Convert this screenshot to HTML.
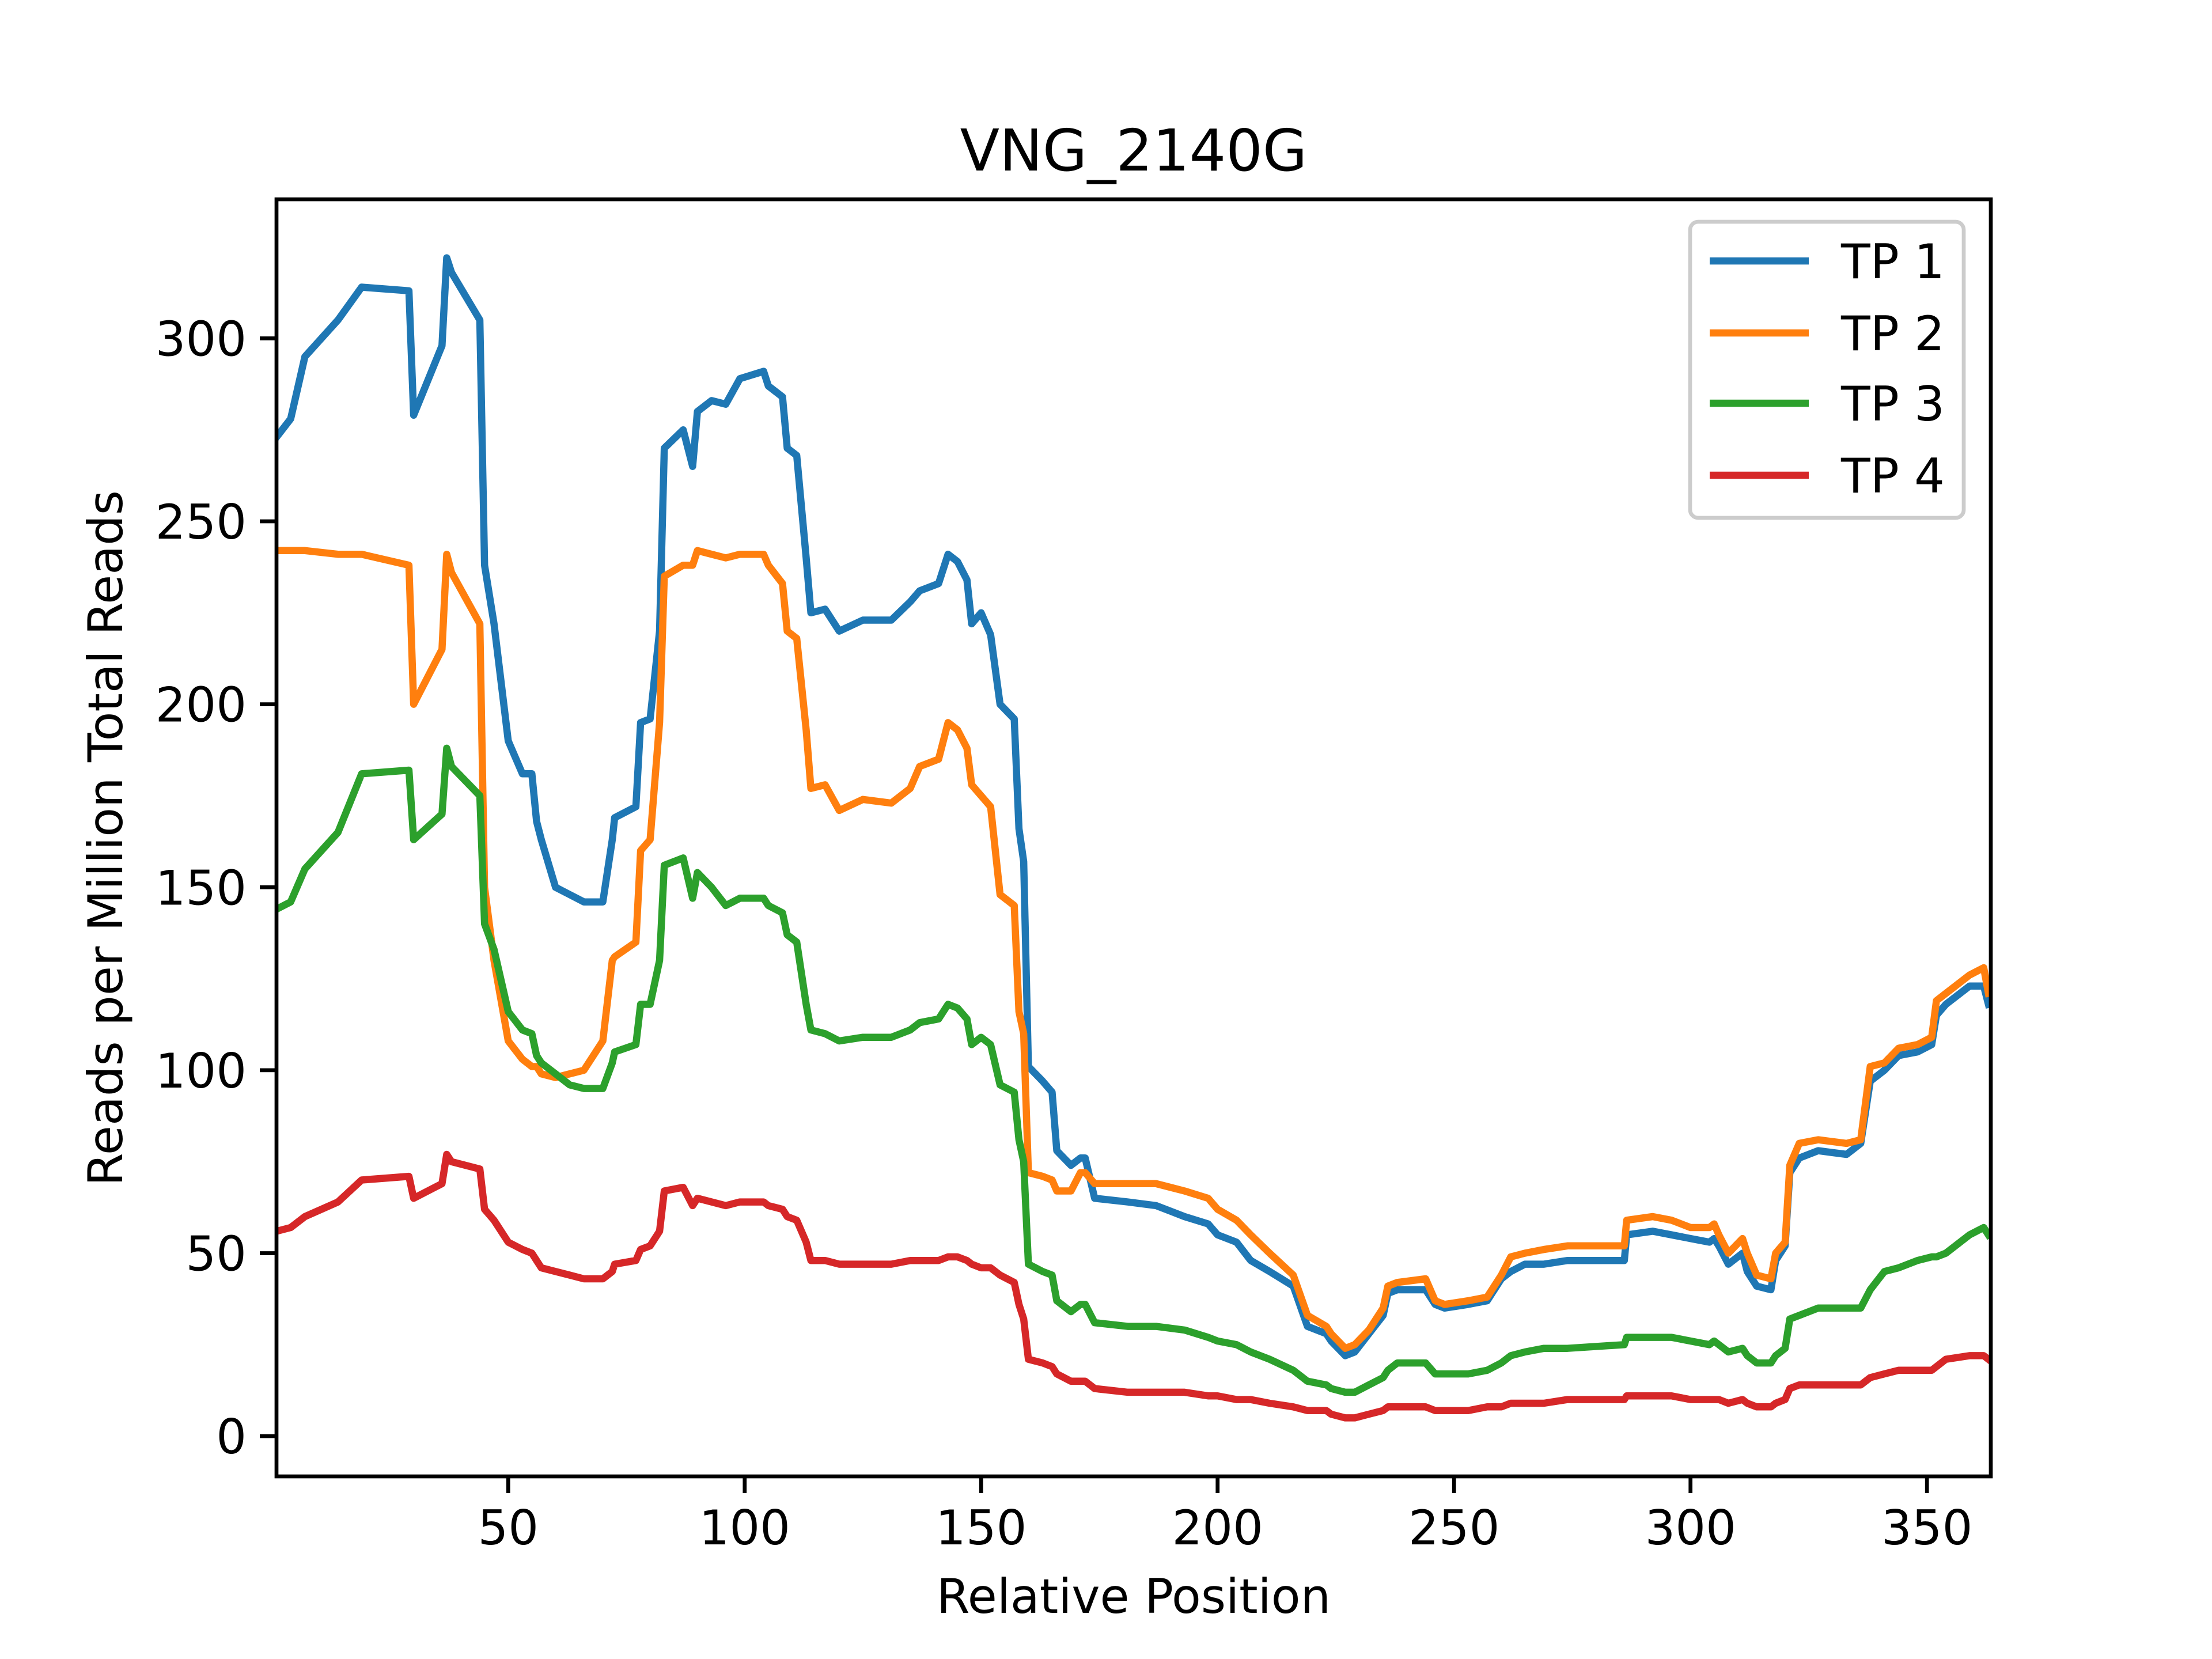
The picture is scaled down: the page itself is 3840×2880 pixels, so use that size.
<!DOCTYPE html>
<html><head><meta charset="utf-8"><style>html,body{margin:0;padding:0;background:#fff}svg{display:block}text{font-family:"DejaVu Sans","Liberation Sans",sans-serif;fill:#000}</style></head>
<body>
<svg id="chart" width="3840" height="2880" viewBox="0 0 3840 2880" xmlns="http://www.w3.org/2000/svg">
<rect width="3840" height="2880" fill="#fff"/>
<text x="1968" y="296" font-size="100" text-anchor="middle">VNG_2140G</text>
<g id="plot"></g>
<text x="1968" y="2800" font-size="83" text-anchor="middle">Relative Position</text>
<text transform="translate(212,1455) rotate(-90)" font-size="83" text-anchor="middle">Reads per Million Total Reads</text>
<rect x="480" y="346" width="2976" height="2217" fill="none" stroke="#000" stroke-width="6.7"/>
<g>
<rect x="2934" y="385" width="475" height="514" rx="14" fill="#fff" fill-opacity="0.8" stroke="#ccc" stroke-width="6.7"/>
</g>
</svg>
<script>
const xPos=[1,4,7,14,19,29,30,36,37,38,44,45,47,50,53,55,56,57,60,63,66,70,72,72.5,77,78,80,82,83,87,89,90,93,96,99,104,105,108,109,111,113,114,117,120,125,131,135,137,141,143,145,147,148,150,152,154,157,158,159,160,163,165,166,169,171,172,174,181,187,193,198,200,204,207,211,216,219,223,224,227,229,232,235,236,238,244,246,248,253,257,260,262,265,269,274,286,286.5,292,296,300,304,305,306,308,311,312,314,317,318,320,321,323,327,333,336,338,341,344,348,351,352,354,359,362,363];
const tp1=[273,278,295,305,314,313,279,298,322,318,305,238,222,190,181,181,168,163,150,148,146,146,163,169,172,195,196,220,270,275,265,280,283,282,289,291,287,284,270,268,240,225,226,220,223,223,228,231,233,241,239,234,222,225,219,200,196,166,157,101,97,94,78,74,76,76,65,64,63,60,58,55,53,48,45,41,30,28,26,22,23,28,33,39,40,40,36,35,36,37,43,45,47,47,48,48,55,56,55,54,53,54,52,47,50,45,41,40,48,52,72,76,78,77,80,97,100,104,105,107,115,118,123,123,118];
const tp2=[242,242,242,241,241,238,200,215,241,236,222,150,130,108,103,101,101,99,98,99,100,108,130,131,135,160,163,195,235,238,238,242,241,240,241,241,238,233,220,218,193,177,178,171,174,173,177,183,185,195,193,188,178,175,172,148,145,116,110,72,71,70,67,67,72,72,69,69,69,67,65,62,59,55,50,44,33,30,28,24,25,29,35,41,42,43,37,36,37,38,44,49,50,51,52,52,59,60,59,57,57,58,55,50,54,50,44,43,50,53,74,80,81,80,81,101,102,106,107,109,119,121,126,128,121];
const tp3=[144,146,155,165,181,182,163,170,188,183,175,140,133,116,111,110,104,102,99,96,95,95,102,105,107,118,118,130,156,158,147,154,150,145,147,147,145,143,137,135,118,111,110,108,109,109,111,113,114,118,117,114,107,109,107,96,94,81,75,47,45,44,37,34,36,36,31,30,30,29,27,26,25,23,21,18,15,14,13,12,12,14,16,18,20,20,17,17,17,18,20,22,23,24,24,25,27,27,27,26,25,26,25,23,24,22,20,20,22,24,32,33,35,35,35,40,45,46,48,49,49,50,55,57,55];
const tp4=[56,57,60,64,70,71,65,69,77,75,73,62,59,53,51,50,48,46,45,44,43,43,45,47,48,51,52,56,67,68,63,65,64,63,64,64,63,62,60,59,53,48,48,47,47,47,48,48,48,49,49,48,47,46,46,44,42,36,32,21,20,19,17,15,15,15,13,12,12,12,11,11,10,10,9,8,7,7,6,5,5,6,7,8,8,8,7,7,7,8,8,9,9,9,10,10,11,11,11,10,10,10,10,9,10,9,8,8,9,10,13,14,14,14,14,16,17,18,18,18,19,21,22,22,21];
const seriesNames=["TP 1","TP 2","TP 3","TP 4"];
const xTicks=[50,100,150,200,250,300,350];
const yTicks=[0,50,100,150,200,250,300];
const NS="http://www.w3.org/2000/svg";
const L=480,R=3456,T=346,B=2563,XMIN=1,XMAX=363.5,YMIN=-11,YMAX=338;
function sx(v){return L+(v-XMIN)/(XMAX-XMIN)*(R-L);}
function sy(v){return B-(v-YMIN)/(YMAX-YMIN)*(B-T);}
const svg=document.getElementById('chart');
const plot=document.getElementById('plot');
const colors=["#1f77b4","#ff7f0e","#2ca02c","#d62728"];
const all=[tp1,tp2,tp3,tp4];
all.forEach((s,i)=>{
  const n=Math.min(s.length,xPos.length);
  let d="";
  for(let k=0;k<n;k++){d+=(k?"L":"M")+sx(xPos[k]).toFixed(1)+","+sy(s[k]).toFixed(1);}
  const p=document.createElementNS(NS,'path');
  p.setAttribute('d',d);p.setAttribute('fill','none');p.setAttribute('stroke',colors[i]);
  p.setAttribute('stroke-width','12.5');p.setAttribute('stroke-linejoin','round');p.setAttribute('stroke-linecap','square');
  
  
  plot.appendChild(p);
});
const clip=document.createElementNS(NS,'clipPath');clip.setAttribute('id','cp');
const cr=document.createElementNS(NS,'rect');cr.setAttribute('x',L);cr.setAttribute('y',T);cr.setAttribute('width',R-L);cr.setAttribute('height',B-T);
clip.appendChild(cr);svg.insertBefore(clip,svg.firstChild);plot.setAttribute('clip-path','url(#cp)');
xTicks.forEach(v=>{
  const x=sx(v);
  const l=document.createElementNS(NS,'line');
  l.setAttribute('x1',x);l.setAttribute('x2',x);l.setAttribute('y1',B);l.setAttribute('y2',B+29);
  l.setAttribute('stroke','#000');l.setAttribute('stroke-width','6.7');
  
  
  svg.appendChild(l);
  const t=document.createElementNS(NS,'text');
  t.setAttribute('x',x);t.setAttribute('y',B+118);t.setAttribute('font-size','83');t.setAttribute('text-anchor','middle');
  t.textContent=v;
  
  
  svg.appendChild(t);
});
yTicks.forEach(v=>{
  const y=sy(v);
  const l=document.createElementNS(NS,'line');
  l.setAttribute('x1',L-29);l.setAttribute('x2',L);l.setAttribute('y1',y);l.setAttribute('y2',y);
  l.setAttribute('stroke','#000');l.setAttribute('stroke-width','6.7');
  
  
  svg.appendChild(l);
  const t=document.createElementNS(NS,'text');
  t.setAttribute('x',L-52);t.setAttribute('y',y+30);t.setAttribute('font-size','83');t.setAttribute('text-anchor','end');
  t.textContent=v;
  
  
  svg.appendChild(t);
});
const legendYs=[453,578,700,825];
seriesNames.forEach((nm,i)=>{
  const l=document.createElementNS(NS,'line');
  l.setAttribute('x1',2968);l.setAttribute('x2',3140);l.setAttribute('y1',legendYs[i]);l.setAttribute('y2',legendYs[i]);
  l.setAttribute('stroke',colors[i]);l.setAttribute('stroke-width','12.5');
  
  
  svg.appendChild(l);
  const t=document.createElementNS(NS,'text');
  t.setAttribute('x',3196);t.setAttribute('y',legendYs[i]+30);t.setAttribute('font-size','83');
  t.textContent=nm;
  
  
  svg.appendChild(t);
});
</script>
</body></html>
